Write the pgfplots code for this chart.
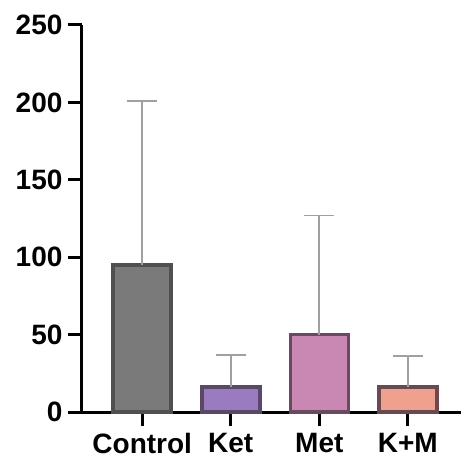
\documentclass[border=0pt]{standalone}
\usepackage{pgfplots}
\pgfplotsset{compat=1.18}
\usepackage{fontspec}
\setmainfont{Liberation Sans}
\definecolor{cgray}{HTML}{7A7A7A}
\definecolor{bgray}{HTML}{505050}
\definecolor{cket}{HTML}{9B7BBF}
\definecolor{bket}{HTML}{5A4868}
\definecolor{cmet}{HTML}{C987B4}
\definecolor{bmet}{HTML}{6A4A60}
\definecolor{ckm}{HTML}{F0A08E}
\definecolor{bkm}{HTML}{6A4A4E}
\definecolor{errc}{HTML}{A0A0A0}
\begin{document}
\begin{tikzpicture}
\begin{axis}[
  scale only axis,
  width=379pt, height=387pt,
  axis lines*=left,
  axis line style={line width=3pt, black},
  xmin=-0.68, xmax=3.6,
  ymin=0, ymax=250,
  ytick={0,50,100,150,200,250},
  xtick={0,1,2,3},
  xticklabels={Control,Ket,Met,K+M},
  tick align=outside,
  major tick length=14pt,
  tick style={line width=3pt, black},
  /pgf/number format/assume math mode=true,
  ticklabel style={font=\fontsize{28}{32}\selectfont\bfseries},
  yticklabel style={xshift=-2pt},
  xticklabel style={yshift=-4pt},
  ybar, bar width=58pt, bar shift=0pt,
  clip=false,
  error bars/y dir=plus,
  error bars/y explicit,
  error bars/error bar style={errc, line width=1.8pt},
  error bars/error mark options={rotate=90, mark size=15pt, line width=1.8pt, errc},
]
\coordinate (O) at (rel axis cs:0,0);
\addplot[fill=cgray, draw=bgray, line width=3.5pt] coordinates {(0,95) +- (0,106)};
\addplot[fill=cket, draw=bket, line width=3.5pt] coordinates {(1,16) +- (0,21)};
\addplot[fill=cmet, draw=bmet, line width=3.5pt] coordinates {(2,50) +- (0,77)};
\addplot[fill=ckm, draw=bkm, line width=3.5pt] coordinates {(3,16) +- (0,20)};
\end{axis}
\pgfresetboundingbox
\path (O) ++(-82pt,-49pt) rectangle ++(461pt,461pt);
\end{tikzpicture}
\end{document}
